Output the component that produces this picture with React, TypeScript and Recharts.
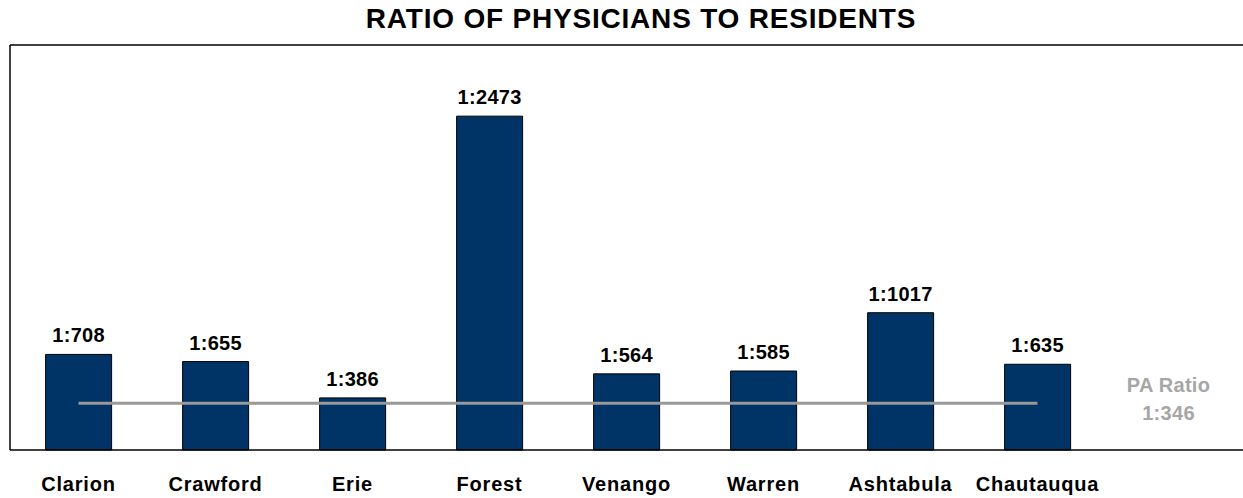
import React from "react";
import {
  ComposedChart,
  Bar,
  Line,
  XAxis,
  YAxis,
  LabelList,
  ReferenceLine,
  ReferenceDot,
} from "recharts";

const counties = ["Clarion", "Crawford", "Erie", "Forest", "Venango", "Warren", "Ashtabula", "Chautauqua", "PA"];
const residentsPerPhysician = [708, 655, 386, 2473, 564, 585, 1017, 635, null];
const paRatio = 346;

const data = counties.map((c, i) => ({
  name: c,
  value: residentsPerPhysician[i],
  pa: i < 8 ? paRatio : null,
}));

const FONT = "'Liberation Sans', Arial, sans-serif";

const PaLabel = (props: any) => {
  const { viewBox } = props;
  const cx = viewBox.x + (viewBox.width || 0) / 2 - 6;
  const cy = viewBox.y + (viewBox.height || 0) / 2;
  const st = { fontFamily: FONT, fontSize: 20, fontWeight: "bold" as const, fill: "#a6a6a6", letterSpacing: 0.3 };
  return (
    <g>
      <text x={cx} y={cy - 11} textAnchor="middle" {...st}>
        PA Ratio
      </text>
      <text x={cx} y={cy + 17} textAnchor="middle" {...st}>
        {`1:${paRatio}`}
      </text>
    </g>
  );
};

export default function App() {
  return (
    <div style={{ position: "absolute", left: 0, top: 0, width: 1243, height: 498, background: "#fff" }}>
      <div
        style={{
          position: "absolute",
          left: 0,
          top: 3,
          width: 1282,
          textAlign: "center",
          fontFamily: FONT,
          fontWeight: "bold",
          fontSize: 28,
          letterSpacing: 0.8,
          color: "#000",
        }}
      >
        RATIO OF PHYSICIANS TO RESIDENTS
      </div>
      <ComposedChart
        width={1243}
        height={498}
        data={data}
        margin={{ top: 45, right: 0, left: 0, bottom: 0 }}
        barCategoryGap="26%"
      >
        <XAxis
          dataKey="name"
          height={48}
          axisLine={{ stroke: "#000", strokeWidth: 1.5 }}
          tickLine={false}
          interval={0}
          tickMargin={21}
          tickFormatter={(v: string) => (v === "PA" ? "" : v)}
          tick={{ fontSize: 20, fontWeight: "bold", fill: "#000", fontFamily: FONT, letterSpacing: 0.8 }}
        />
        <YAxis
          width={10}
          domain={[0, 3000]}
          ticks={[0, 3000]}
          tick={false}
          tickLine={false}
          axisLine={{ stroke: "#000", strokeWidth: 1.5 }}
        />
        <ReferenceLine y={3000} stroke="#000" strokeWidth={1.5} ifOverflow="visible" />
        <Bar dataKey="value" fill="#003366" stroke="#000" strokeWidth={1} isAnimationActive={false}>
          <LabelList
            dataKey="value"
            position="top"
            offset={12}
            formatter={(v: any) => (v == null ? "" : `1:${v}`)}
            style={{ fontSize: 20, fontWeight: "bold", fill: "#000", fontFamily: FONT, letterSpacing: 0.3 }}
          />
        </Bar>
        <Line
          dataKey="pa"
          stroke="#999999"
          strokeWidth={3}
          dot={false}
          activeDot={false}
          connectNulls={false}
          isAnimationActive={false}
        />
        <ReferenceDot x="PA" y={paRatio} r={0} fill="none" stroke="none" label={<PaLabel />} />
      </ComposedChart>
    </div>
  );
}
